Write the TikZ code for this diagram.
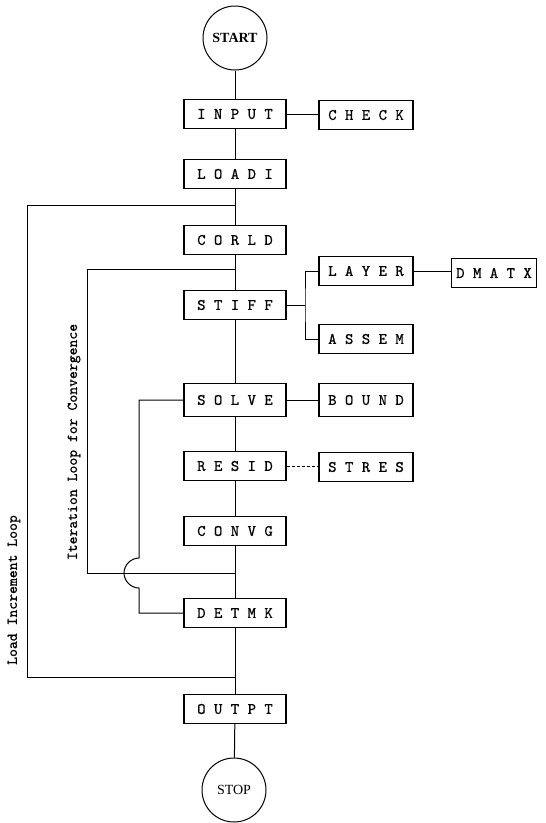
\documentclass[tikz,border=0pt]{standalone}
\usepackage{fontspec}
\newfontfamily\termfont{Liberation Serif}
\newfontfamily\typefont{lmmono10-regular.otf}[FakeBold=0.7]
\begin{document}
\begin{tikzpicture}[x=1pt,y=-1pt,
  box/.style={draw,line width=1.3pt,minimum width=102pt,minimum height=29pt,
    inner sep=0pt,font=\fontsize{16}{16}\selectfont\typefont},
  sidebox/.style={box,minimum width=94pt},
  term/.style={draw,circle,line width=1pt,minimum size=64pt,inner sep=0pt,
    font=\termfont\bfseries\fontsize{14}{14}\selectfont},
  link/.style={line width=1pt},
  looplabel/.style={rotate=90,inner sep=0pt,font=\fontsize{15}{15}\selectfont\typefont}]
\useasboundingbox (0,0) rectangle (546,823);

% main program sequence
\node[term] (start) at (235,38) {START};
\node[box] (input) at (235,114) {I N P U T};
\node[box] (loadi) at (235,174) {L O A D I};
\node[box] (corld) at (235,240) {C O R L D};
\node[box] (stiff) at (235,305) {S T I F F};
\node[box,minimum height=33pt] (solve) at (235,400) {S O L V E};
\node[box] (resid) at (235,466) {R E S I D};
\node[box] (convg) at (235,531) {C O N V G};
\node[box] (detmk) at (235,613) {D E T M K};
\node[box] (outpt) at (235,709) {O U T P T};
\node[term,font=\termfont\fontsize{14}{14}\selectfont] (stop) at (234,790) {STOP};

% subroutines
\node[sidebox] (check) at (366,115) {C H E C K};
\node[sidebox] (layer) at (366,271) {L A Y E R};
\node[box,minimum width=85pt] (dmatx) at (494,273) {D M A T X};
\node[sidebox] (assem) at (366,339) {A S S E M};
\node[sidebox,minimum height=33pt] (bound) at (366,400) {B O U N D};
\node[sidebox] (stres) at (366,467) {S T R E S};

% spine
\draw[link] (start) -- (input);
\draw[link] (input) -- (loadi);
\draw[link] (loadi) -- (corld);
\draw[link] (corld) -- (stiff);
\draw[link] (stiff) -- (solve);
\draw[link] (solve) -- (resid);
\draw[link] (resid) -- (convg);
\draw[link] (convg) -- (detmk);
\draw[link] (detmk) -- (outpt);
\draw[link] (outpt) -- (stop);

% calls to subroutines
\draw[link] (input.east) -- (check.west |- input.east);
\coordinate (fork) at (305,305);
\draw[link] (stiff.east) -- (fork);
\draw[link] (layer.west) -| (fork) |- (assem.west);
\draw[link] (layer.east) -- (dmatx.west |- layer.east);
\draw[link] (solve.east) -- (bound.west);
\draw[thin,densely dashed] (resid.east) -- (stres.west |- resid.east);

% load increment loop
\coordinate (loadTop) at (235,205);
\coordinate (loadBot) at (235,677);
\coordinate (loadSide) at (27,0);
\draw[link] (loadTop) -- (loadTop -| loadSide) -- (loadBot -| loadSide) -- (loadBot);

% iteration loop
\coordinate (iterTop) at (235,269);
\coordinate (iterBot) at (235,573);
\coordinate (iterSide) at (87,0);
\draw[link] (iterTop) -- (iterTop -| iterSide) -- (iterBot -| iterSide) -- (iterBot);

% solve / detmk return path hopping over the iteration line
\coordinate (innerSide) at (139,0);
\coordinate (hopTop) at (139,558);
\coordinate (hopBot) at (139,588);
\draw[link] (solve.west) -- (solve.west -| innerSide) -- (hopTop)
  .. controls (131,558) and (124,565) .. (124,573)
  .. controls (124,581) and (131,588) .. (hopBot)
  -- (detmk.west -| innerSide) -- (detmk.west);

% loop labels
\node[looplabel] (iterLabel) at (74,442) {Iteration Loop for Convergence};
\node[looplabel] (loadLabel) at (14,590) {Load Increment Loop};
\end{tikzpicture}
\end{document}
